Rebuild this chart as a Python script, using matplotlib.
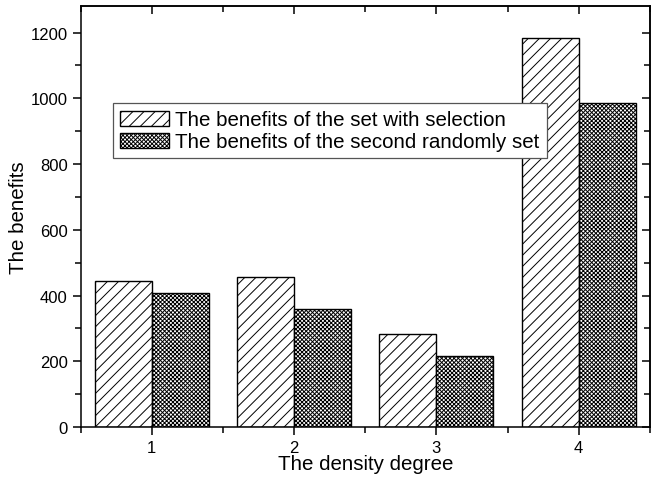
import matplotlib
matplotlib.use("Agg")
import matplotlib.pyplot as plt
import numpy as np
from matplotlib.ticker import MultipleLocator

plt.rcParams['font.family'] = ['Liberation Sans', 'DejaVu Sans']
plt.rcParams['hatch.linewidth'] = 0.7

categories = [1, 2, 3, 4]
selection = [443, 455, 282, 1184]
randomly = [408, 360, 216, 985]
labels = ["The benefits of the set with selection",
          "The benefits of the second randomly set"]

fig = plt.figure(figsize=(6.59, 4.81), dpi=100)
ax = fig.add_axes([0.1225, 0.110, 0.8635, 0.875])

x = np.array(categories, dtype=float)
w = 0.4
ax.bar(x - w/2, selection, width=w, facecolor='white', edgecolor='black',
       hatch='///', linewidth=1.0, label=labels[0])
ax.bar(x + w/2, randomly, width=w, facecolor='white', edgecolor='black',
       hatch='xxxxxxxx', linewidth=1.0, label=labels[1])

ax.set_xlim(0.5, 4.5)
ax.set_ylim(0, 1280)
ax.set_xticks(categories)
ax.set_xticklabels([str(c) for c in categories])
ax.xaxis.set_minor_locator(MultipleLocator(0.5))
ax.yaxis.set_major_locator(MultipleLocator(200))
ax.yaxis.set_minor_locator(MultipleLocator(100))
ax.tick_params(which='major', direction='out', length=6, width=1.1, labelsize=12)
ax.tick_params(which='minor', direction='out', length=4, width=1.1)
for s in ax.spines.values():
    s.set_linewidth(1.1)

top = ax.secondary_xaxis('top')
top.set_xticks(categories)
top.xaxis.set_minor_locator(MultipleLocator(0.5))
top.tick_params(which='both', direction='in', labeltop=False, width=1.1)
top.tick_params(which='major', length=6)
top.tick_params(which='minor', length=4)
right = ax.secondary_yaxis('right')
right.yaxis.set_major_locator(MultipleLocator(200))
right.yaxis.set_minor_locator(MultipleLocator(100))
right.tick_params(which='both', direction='in', labelright=False, width=1.1)
right.tick_params(which='major', length=6)
right.tick_params(which='minor', length=4)
top.spines['top'].set_linewidth(1.1)
right.spines['right'].set_linewidth(1.1)

ax.set_xlabel("The density degree", fontsize=14.8, labelpad=-1)
ax.set_ylabel("The benefits", fontsize=14.8, labelpad=2)

leg = ax.legend(loc='upper left', bbox_to_anchor=(0.056, 0.770), borderaxespad=0,
                fontsize=14.8, fancybox=False, edgecolor='#555555', framealpha=1,
                handlelength=2.4, handleheight=0.75, handletextpad=0.3,
                labelspacing=0.15, borderpad=0.35)
leg.get_frame().set_linewidth(0.9)

fig.savefig("out.png", dpi=100)
